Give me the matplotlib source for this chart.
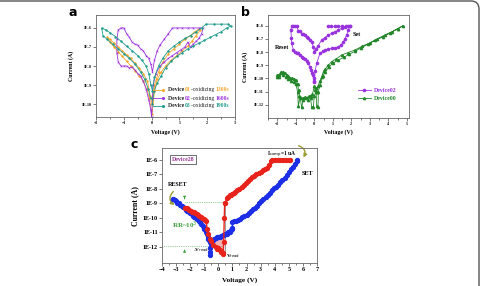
import numpy as np
import matplotlib
matplotlib.use("Agg")
import matplotlib.pyplot as plt
from matplotlib.patches import FancyBboxPatch, FancyArrowPatch, Polygon
from matplotlib.transforms import IdentityTransform
from matplotlib.lines import Line2D

SERIF = ["Liberation Serif", "DejaVu Serif"]

# ---------------- panel a : three devices, log10(I) vs V ----------------
a01_v = [0.02, 0.1, 0.2, 0.35, 0.5, 0.7, 0.9, 1.1, 1.3, 1.45, 1.6, 1.75, 1.7, 1.55, 1.4, 1.2,
         1.0, 0.8, 0.6, 0.4, 0.25, 0.1, 0.02, -0.05, -0.15, -0.3, -0.45, -0.6, -0.75, -0.9,
         -1.05, -1.2, -1.35, -1.5, -1.6, -1.5, -1.35, -1.2, -1.05, -0.9, -0.75, -0.6, -0.45,
         -0.3, -0.18, -0.08, -0.02]
a01_logi = [-10.5, -9.3, -8.7, -8.3, -8.0, -7.7, -7.45, -7.2, -6.95, -6.7, -6.4, -6.1, -6.05,
            -6.2, -6.4, -6.6, -6.85, -7.1, -7.35, -7.8, -8.3, -9.0, -10.0, -9.6, -8.8, -8.4,
            -8.1, -7.85, -7.6, -7.4, -7.2, -7.0, -6.8, -6.6, -6.5, -6.75, -7.0, -7.25, -7.5,
            -7.75, -8.0, -8.25, -8.5, -8.8, -9.2, -9.7, -10.3]

a02_v = [0.0, 0.05, 0.15, 0.3, 0.45, 0.6, 0.75, 0.9, 1.05, 1.2, 1.3, 1.4, 1.5, 1.6, 1.7, 1.8,
         1.85, 1.7, 1.5, 1.3, 1.1, 0.9, 0.75, 0.6, 0.45, 0.3, 0.2, 0.1, 0.03, -0.03, -0.1,
         -0.2, -0.3, -0.4, -0.5, -0.6, -0.7, -0.8, -0.9, -1.0, -1.1, -1.2, -1.25, -1.25, -1.2,
         -1.1, -1.0, -0.9, -0.8, -0.7, -0.6, -0.5, -0.4, -0.3, -0.2, -0.1, -0.03, 0.0]
a02_logi = [-10.7, -9.0, -8.4, -8.0, -7.8, -7.6, -7.45, -7.3, -7.15, -7.0, -6.75, -7.0, -6.85,
            -6.7, -6.55, -6.3, -6.0, -6.0, -6.0, -6.0, -6.0, -6.0, -6.0, -6.3, -6.6, -6.9,
            -7.2, -7.7, -8.3, -7.9, -7.6, -7.45, -7.2, -7.1, -6.9, -6.85, -6.75, -6.5, -6.3,
            -6.0, -6.0, -6.1, -6.6, -7.3, -7.8, -8.0, -8.0, -8.0, -8.1, -8.05, -8.2, -8.4,
            -8.5, -8.8, -9.2, -9.8, -10.3, -10.7]

a03_v = [0.02, 0.1, 0.2, 0.35, 0.5, 0.7, 0.9, 1.1, 1.3, 1.5, 1.7, 1.9, 2.1, 2.3, 2.5, 2.7,
         2.85, 2.75, 2.5, 2.25, 1.95, 1.8, 1.6, 1.4, 1.2, 1.0, 0.8, 0.6, 0.4, 0.25, 0.1, 0.03,
         -0.03, -0.1, -0.2, -0.35, -0.5, -0.7, -0.9, -1.1, -1.3, -1.5, -1.65, -1.8, -1.75,
         -1.6, -1.4, -1.2, -1.0, -0.8, -0.6, -0.4, -0.25, -0.12, -0.04]
a03_logi = [-10.0, -9.3, -8.9, -8.5, -8.1, -7.75, -7.5, -7.3, -7.1, -6.95, -6.8, -6.65, -6.5,
            -6.35, -6.2, -6.0, -5.9, -5.8, -5.8, -5.8, -5.8, -6.0, -6.2, -6.4, -6.55, -6.75,
            -6.95, -7.2, -7.6, -8.0, -8.6, -9.3, -9.0, -8.4, -8.0, -7.7, -7.45, -7.2, -6.95,
            -6.7, -6.45, -6.25, -6.1, -6.0, -6.4, -6.6, -6.85, -7.1, -7.35, -7.6, -7.9, -8.3,
            -8.7, -9.2, -9.7]

a_legend_ids = ["01", "02", "03"]
a_legend_times = ["1300s", "1600s", "1900s"]

# ---------------- panel b : Device02 and Device00 ----------------
b02_v = [0.0, 0.05, 0.13, 0.31, 0.45, 0.58, 0.76, 0.94, 1.12, 1.3, 1.45, 1.57, 1.66, 1.75,
         1.84, 1.92, 1.8, 1.66, 1.48, 1.3, 1.12, 0.94, 0.76, 0.58, 0.4, 0.22, 0.1, 0.0, -0.05,
         -0.14, -0.23, -0.32, -0.41, -0.5, -0.59, -0.68, -0.77, -0.86, -0.95, -1.05, -1.15,
         -1.22, -1.26, -1.24, -1.22, -1.13, -1.04, -0.95, -0.86, -0.77, -0.68, -0.59, -0.5,
         -0.41, -0.32, -0.25, -0.18, -0.12, -0.09, -0.04, 0.0]
b02_logi = [-10.2, -9.4, -8.85, -8.09, -7.95, -7.85, -7.78, -7.72, -7.68, -7.6, -7.45, -7.24,
            -6.98, -6.7, -6.35, -6.0, -6.03, -6.07, -6.2, -6.32, -6.45, -6.58, -6.7, -6.9,
            -7.08, -7.5, -7.75, -7.97, -7.6, -7.2, -7.1, -6.9, -6.85, -6.7, -6.6, -6.65, -6.4,
            -6.4, -6.05, -6.0, -6.0, -6.0, -6.3, -6.9, -7.34, -7.84, -7.96, -8.05, -8.1, -8.22,
            -8.35, -8.45, -8.5, -8.7, -8.85, -9.1, -9.36, -9.6, -9.74, -10.0, -10.24]
b02_flat_v = [0.72, 0.9, 1.1, 1.3, 1.5, 1.7, 1.92]
b02_flat_logi = [-6.0, -6.0, -6.0, -6.0, -6.0, -6.0, -6.0]

b00_v = [-2.0, -1.9, -1.8, -1.7, -1.6, -1.5, -1.4, -1.3, -1.2, -1.1, -1.0, -0.9, -0.85, -0.8,
         -0.7, -0.6, -0.5, -0.4, -0.3, -0.2, -0.1, 0.0, 0.05, 0.1, 0.15, 0.2, 0.3, 0.4, 0.5,
         0.58, 0.75, 0.94, 1.2, 1.48, 1.8, 2.2, 2.6, 3.0, 3.4, 3.82, 4.2, 4.5, 4.8, 4.5, 4.1,
         3.7, 3.3, 2.9, 2.5, 2.2, 1.9, 1.6, 1.3, 1.0, 0.8, 0.6, 0.45, 0.3, 0.22, 0.2, 0.13,
         0.1, 0.0, -0.05, -0.14, -0.2, -0.35, -0.5, -0.6, -0.68, -0.77, -0.86, -0.9, -1.0,
         -1.1, -1.25, -1.4, -1.55, -1.7, -1.8, -1.9, -2.0]
b00_logi = [-9.75, -9.7, -9.5, -9.5, -9.6, -9.75, -9.85, -9.95, -10.0, -10.05, -10.15, -10.4,
            -10.9, -11.3, -11.45, -11.5, -11.4, -11.45, -11.35, -11.3, -11.2, -10.6, -10.9,
            -10.7, -11.0, -10.6, -10.2, -9.86, -9.45, -9.3, -9.0, -8.72, -8.5, -8.22, -8.05,
            -7.84, -7.55, -7.3, -7.0, -6.7, -6.45, -6.22, -6.0, -6.25, -6.55, -6.85, -7.1,
            -7.4, -7.7, -7.95, -8.15, -8.4, -8.6, -8.85, -9.1, -9.5, -9.8, -10.5, -11.0, -12.2,
            -12.1, -11.0, -11.3, -12.2, -12.2, -11.5, -11.6, -11.5, -11.6, -12.2, -11.4, -12.1,
            -11.0, -10.4, -10.3, -10.2, -10.05, -9.9, -9.7, -9.55, -9.9, -9.9]

# ---------------- panel c : Device28 ----------------
c_blue_right_v = [-0.62, -0.6, -0.58, -0.55, -0.5, -0.45, -0.4, -0.3, -0.2, -0.1, 0.0, 0.1, 0.2,
                  0.3, 0.4, 0.5, 0.6, 0.7, 0.8, 0.9, 0.95, 1.0, 1.0, 1.1, 1.25, 1.4, 1.55, 1.7,
                  1.85, 2.0, 2.15, 2.3, 2.45, 2.6, 2.75, 2.9, 3.05, 3.2, 3.35, 3.5, 3.65, 3.8,
                  3.95, 4.1, 4.25, 4.4, 4.55, 4.7, 4.85, 5.0, 5.15, 5.3, 5.45, 5.55, 5.6]
c_blue_right_logi = [-12.6, -12.4, -12.1, -11.8, -11.7, -11.6, -11.55, -11.45, -11.4, -11.35,
                     -11.3, -11.3, -11.25, -11.2, -11.2, -11.15, -11.1, -11.0, -10.95, -10.85,
                     -10.8, -10.7, -10.3, -10.25, -10.2, -10.15, -10.05, -9.95, -9.85, -9.8,
                     -9.7, -9.55, -9.4, -9.3, -9.15, -9.0, -8.85, -8.7, -8.55, -8.4, -8.25,
                     -8.1, -7.95, -7.85, -7.7, -7.55, -7.4, -7.25, -7.05, -6.85, -6.65, -6.45,
                     -6.25, -6.1, -6.0]
c_blue_left_v = [-0.55, -0.6, -0.65, -0.7, -0.75, -0.8, -0.9, -1.0, -1.1, -1.2, -1.3, -1.4,
                 -1.5, -1.6, -1.7, -1.8, -1.9, -2.0, -2.1, -2.2, -2.3, -2.4, -2.5, -2.6, -2.7,
                 -2.8, -2.9, -3.0, -3.1, -3.2, -3.25]
c_blue_left_logi = [-11.8, -11.65, -11.55, -11.45, -11.3, -11.15, -11.0, -10.8, -10.6, -10.45,
                    -10.3, -10.2, -10.1, -10.0, -9.95, -9.85, -9.75, -9.65, -9.6, -9.5, -9.45,
                    -9.35, -9.25, -9.2, -9.1, -9.0, -8.95, -8.85, -8.8, -8.72, -8.7]
c_red_v = [-2.35, -2.25, -2.15, -2.05, -1.95, -1.85, -1.75, -1.65, -1.55, -1.45, -1.35, -1.25,
           -1.15, -1.05, -0.95, -0.85, -0.8, -0.7, -0.6, -0.5, -0.35, -0.2, -0.1, 0.0, 0.1, 0.2,
           0.25, 0.3, 0.35, 0.38, 0.42, 0.45, 0.5, 0.6, 0.7, 0.8, 0.9, 1.0, 1.1, 1.2, 1.35, 1.5,
           1.65, 1.8, 1.95, 2.1, 2.25, 2.4, 2.55, 2.7, 2.85, 3.0, 3.15, 3.3, 3.45, 3.6, 3.75,
           3.8, 4.0, 4.2, 4.4, 4.6, 4.8, 5.0, 5.1]
c_red_logi = [-9.3, -9.33, -9.38, -9.45, -9.52, -9.57, -9.63, -9.7, -9.76, -9.82, -9.88, -9.95,
              -10.02, -10.08, -10.15, -10.25, -10.8, -11.1, -11.44, -11.6, -11.9, -12.0, -12.15,
              -12.1, -12.25, -12.35, -12.4, -12.45, -12.5, -11.7, -10.0, -9.0, -8.95, -8.66,
              -8.55, -8.45, -8.4, -8.33, -8.28, -8.2, -8.1, -8.0, -7.85, -7.72, -7.6, -7.42,
              -7.3, -7.2, -7.12, -7.0, -6.88, -6.8, -6.72, -6.63, -6.55, -6.35, -6.1, -6.0,
              -6.0, -6.0, -6.0, -6.0, -6.0, -6.0, -6.0]
c_pink_v = [-0.6, -0.4, 0.0, 0.4, 0.4, 0.0, -0.35]
c_pink_logi = [-11.8, -11.45, -11.3, -11.2, -12.5, -12.1, -11.9]

A_COLORS = ["#f4a52a", "#9b30e0", "#1e9c8c"]
B_PURPLE = "#9933dd"
B_GREEN = "#23872a"
C_BLUE = "#1c2fe6"
C_RED = "#e8231c"
OLIVE = "#9c9c34"
RR_GREEN = "#3aa03a"


def to_i(logi):
    return np.power(10.0, np.asarray(logi))


def style_axes(ax, tick_size):
    for sp in ax.spines.values():
        sp.set_color("#666666")
        sp.set_linewidth(0.6)
    ax.tick_params(which="both", direction="out", width=0.5, colors="#444444",
                   labelsize=tick_size, pad=1)
    ax.tick_params(which="major", length=2)
    ax.tick_params(which="minor", length=1.2)
    ax.yaxis.set_minor_locator(plt.NullLocator())
    for lab in ax.get_xticklabels() + ax.get_yticklabels():
        lab.set_family(SERIF)
        lab.set_weight("bold")
        lab.set_color("black")


def set_log_ticks(ax, exps):
    ax.set_yticks([10.0 ** e for e in exps])
    ax.set_yticklabels([f"1E{e}" for e in exps])


def colored_line(ax, x, y, parts, size):
    t = ax.text(x, y, parts[0][0], color=parts[0][1], weight=parts[0][2], fontsize=size,
                family=SERIF, transform=ax.transAxes, va="center", ha="left")
    for s, c, w in parts[1:]:
        t = ax.annotate(s, xy=(1, 0), xycoords=t, va="bottom", ha="left", color=c,
                        weight=w, fontsize=size, family=SERIF)


fig = plt.figure(figsize=(4.85, 2.86), dpi=100)

# ---- a ----
ax_a = fig.add_axes([0.198, 0.591, 0.2866, 0.3566])
ax_a.set_yscale("log")
for v, li, col, mk in zip([a01_v, a02_v, a03_v], [a01_logi, a02_logi, a03_logi], A_COLORS,
                          ["o", "x", "o"]):
    ax_a.plot(v, to_i(li), color=col, lw=0.6, marker=mk, ms=1.2, mew=0.4)
ax_a.set_xlim(-2, 3)
ax_a.set_ylim(2.1e-11, 4.8e-6)
ax_a.set_xticks([-2, -1, 0, 1, 2, 3])
ax_a.set_xticks(np.arange(-2, 3.01, 0.5), minor=True)
set_log_ticks(ax_a, [-6, -7, -8, -9, -10])
style_axes(ax_a, 2.9)
ax_a.set_xlabel("Voltage (V)", family=SERIF, weight="bold", fontsize=4.2)
ax_a.set_ylabel("Current (A)", family=SERIF, weight="bold", fontsize=4.2)
ax_a.xaxis.set_label_coords(0.5, -0.12)
ax_a.yaxis.set_label_coords(-0.155, 0.5)
for k, yy in enumerate([0.265, 0.184, 0.111]):
    ax_a.add_line(Line2D([0.41, 0.48], [yy, yy], transform=ax_a.transAxes, color=A_COLORS[k],
                         lw=0.6, marker="o", markevery=[1], ms=1.2))
    colored_line(ax_a, 0.515, yy, [("Device ", "#222222", "bold"),
                                   (a_legend_ids[k], A_COLORS[k], "bold"),
                                   ("-oxidizing ", "#222222", "normal"),
                                   (a_legend_times[k], A_COLORS[k], "bold")], 4.1)
fig.text(73 / 485, 1 - 12.5 / 286, "a", weight="bold", fontsize=9, ha="center", va="center")

# ---- b ----
ax_b = fig.add_axes([0.5526, 0.5874, 0.2907, 0.3601])
ax_b.set_yscale("log")
ax_b.plot(b02_v, to_i(b02_logi), color=B_PURPLE, lw=0.6, marker="o", ms=1.6, label="Device02")
ax_b.plot(b02_flat_v, to_i(b02_flat_logi), color=B_PURPLE, lw=0.6, marker="o", ms=1.6)
ax_b.plot(b00_v, to_i(b00_logi), color=B_GREEN, lw=0.6, marker="^", ms=1.6, label="Device00")
ax_b.set_xlim(-2.5, 5.12)
ax_b.set_ylim(1e-13, 6.5e-6)
ax_b.set_xticks([-2, -1, 0, 1, 2, 3, 4, 5])
ax_b.set_xticks(np.arange(-2.5, 5.01, 0.5), minor=True)
set_log_ticks(ax_b, [-6, -7, -8, -9, -10, -11, -12])
style_axes(ax_b, 2.9)
ax_b.set_xlabel("Voltage (V)", family=SERIF, weight="bold", fontsize=4.2)
ax_b.set_ylabel("Current (A)", family=SERIF, weight="bold", fontsize=4.2)
ax_b.xaxis.set_label_coords(0.5, -0.107)
ax_b.yaxis.set_label_coords(-0.145, 0.5)
leg = ax_b.legend(loc="center left", bbox_to_anchor=(0.6, 0.23), frameon=False,
                  prop={"family": SERIF, "weight": "bold", "size": 4.2},
                  labelcolor="linecolor", handlelength=2.2, handletextpad=0.5,
                  labelspacing=0.6)
ax_b.text(-1.73, 10 ** -7.64, "Reset", family=SERIF, weight="bold", fontsize=4.4,
          ha="center", va="center")
ax_b.text(2.27, 10 ** -6.65, "Set", family=SERIF, weight="bold", fontsize=4.4,
          ha="center", va="center")
fig.text(245 / 485, 1 - 12 / 286, "b", weight="bold", fontsize=9, ha="center", va="center")

# ---- c ----
ax_c = fig.add_axes([0.334, 0.0804, 0.3196, 0.4021])
ax_c.set_yscale("log")
ax_c.add_patch(Polygon(np.column_stack([c_pink_v, to_i(c_pink_logi)]), closed=True,
                       facecolor="#f2b3b3", edgecolor="none", zorder=1))
ax_c.plot(c_blue_left_v, to_i(c_blue_left_logi), color=C_BLUE, lw=1.0, marker="o", ms=2.8,
          zorder=3)
ax_c.plot(c_blue_right_v, to_i(c_blue_right_logi), color=C_BLUE, lw=1.0, marker="o", ms=2.8,
          zorder=3)
ax_c.plot(c_red_v, to_i(c_red_logi), color=C_RED, lw=1.0, marker="o", ms=2.8, zorder=3)
ax_c.set_xlim(-4, 7)
ax_c.set_ylim(7.4e-14, 6.8e-6)
ax_c.set_xticks(range(-4, 8))
ax_c.set_xticks(np.arange(-4, 7.01, 0.5), minor=True)
set_log_ticks(ax_c, [-6, -7, -8, -9, -10, -11, -12])
style_axes(ax_c, 4.4)
ax_c.set_xlabel("Voltage (V)", family=SERIF, weight="bold", fontsize=5.2)
ax_c.set_ylabel("Current (A)", family=SERIF, weight="bold", fontsize=5.6)
ax_c.xaxis.set_label_coords(0.5, -0.126)
ax_c.yaxis.set_label_coords(-0.148, 0.5)

# guide lines
ax_c.plot([-2.4, 0.47], [1.15e-9, 1.15e-9], color=RR_GREEN, lw=0.5, ls=":", zorder=2)
ax_c.plot([-4, 0.47], [1.1e-12, 1.1e-12], color=RR_GREEN, lw=0.5, ls=":", zorder=2)
ax_c.plot([0.47, 0.47], [1.15e-9, 2.5e-13], color="#777777", lw=0.5, ls="-", zorder=2)
ax_c.plot([-0.59, -0.59], [3e-12, 2.5e-13], color="#777777", lw=0.5, ls="-", zorder=2)
arrow_kw = dict(arrowstyle="-|>", color=RR_GREEN, lw=0.6, mutation_scale=3.5)
ax_c.annotate("", xy=(-2.4, 1.3e-9), xytext=(-2.4, 3.2e-9), arrowprops=arrow_kw)
ax_c.annotate("", xy=(-2.4, 1.0e-12), xytext=(-2.4, 3.3e-13), arrowprops=arrow_kw)
ax_c.text(-2.35, 3e-11, r"RR~10$^3$", color=RR_GREEN, family=SERIF, weight="bold",
          fontsize=5, ha="center", va="center")
ax_c.text(-2.9, 2.1e-8, "RESET", family=SERIF, weight="bold", fontsize=4.3,
          ha="center", va="center")
ax_c.text(6.3, 1.1e-7, "SET", family=SERIF, weight="bold", fontsize=4.5,
          ha="center", va="center")
ax_c.text(3.45, 2.2e-6, r"I$_{\rm comp}$=1 uA", family=SERIF, weight="bold", fontsize=4,
          ha="left", va="center")
ax_c.text(-0.7, 6e-13, r"-V$_{\rm read}$", family=SERIF, weight="bold", fontsize=3.8,
          ha="right", va="center")
ax_c.text(0.55, 2.4e-13, r"V$_{\rm read}$", family=SERIF, weight="bold", fontsize=3.8,
          ha="left", va="center")
ax_c.text(0.135, 0.9, "Device28", transform=ax_c.transAxes, color="#993399", family=SERIF,
          weight="bold", fontsize=4.2, ha="center", va="center",
          bbox=dict(boxstyle="square,pad=0.35", facecolor="white", edgecolor="#333333",
                    lw=0.5))
ax_c.add_patch(FancyArrowPatch((-3.05, 9e-9), (-2.95, 6e-10), connectionstyle="arc3,rad=0.7",
                               arrowstyle="-|>", mutation_scale=5, color=OLIVE, lw=1.0,
                               clip_on=False))
ax_c.add_patch(FancyArrowPatch((5.5, 1.1e-5), (5.95, 1.0e-6), connectionstyle="arc3,rad=-0.7",
                               arrowstyle="-|>", mutation_scale=5, color=OLIVE, lw=1.0,
                               clip_on=False))
fig.text(134 / 485, 1 - 145 / 286, "c", weight="bold", fontsize=9, ha="center", va="center")

# rounded frame around the whole figure
fig.add_artist(FancyBboxPatch((-20, -20), 499, 305, boxstyle="round,pad=0,rounding_size=8",
                              transform=IdentityTransform(), facecolor="none",
                              edgecolor="#555555", lw=1.0))

fig.savefig("out.png", dpi=100)
